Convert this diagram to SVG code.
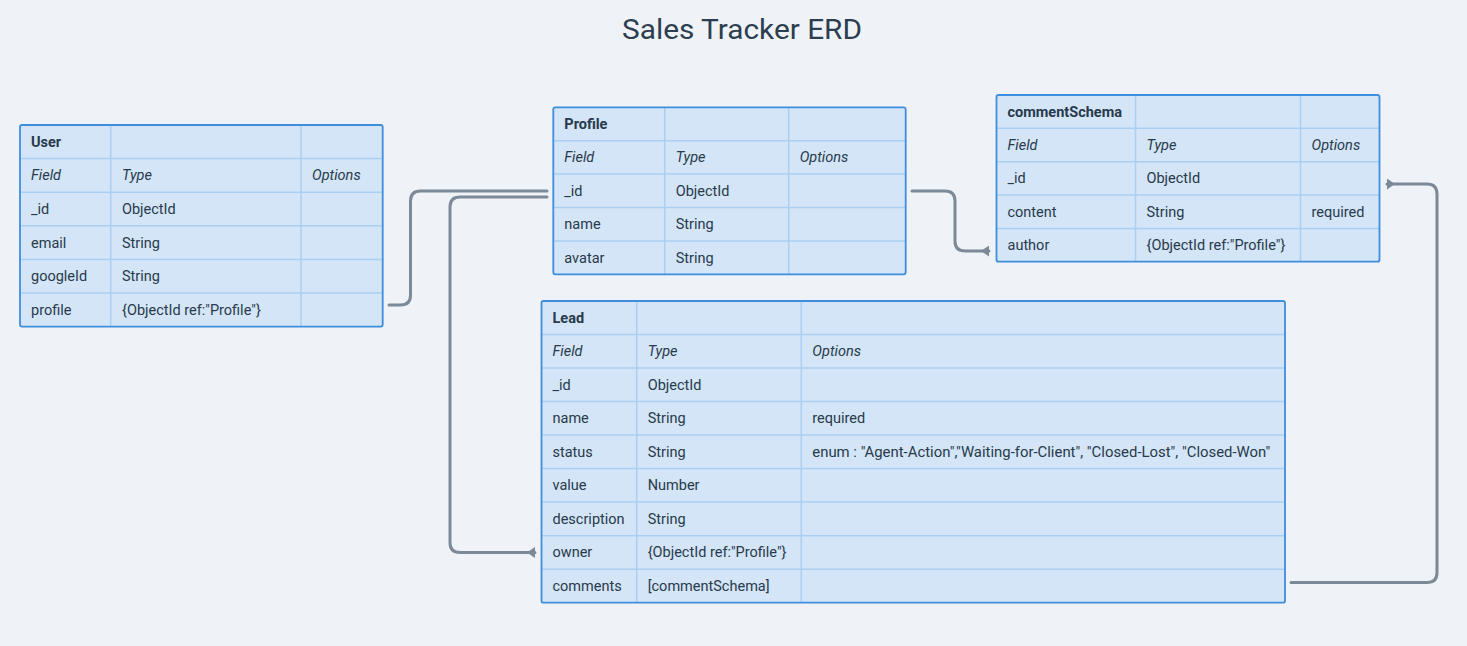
<svg xmlns="http://www.w3.org/2000/svg" width="1467" height="646" viewBox="0 0 1467 646">
<defs>
<style>
.bg{fill:#eff3f7}
.tbl{fill:#d3e5f6}
.outer{fill:none;stroke:#3f8ede;stroke-width:1.8}
.grid{stroke:#aacff2;stroke-width:1.5}
text{font-family:Roboto,"Noto Sans","Liberation Sans",sans-serif;font-size:14.5px;fill:#283a4c}
.title{font-size:28px;text-anchor:middle;fill:#2c3e50}
.hd{font-weight:bold}
.it{font-style:italic}
.conn{fill:none;stroke:#7b8998;stroke-width:3;stroke-linecap:round}
</style>
<marker id="tri" viewBox="0 0 8 11" refX="8" refY="5.5" markerWidth="8" markerHeight="11" markerUnits="userSpaceOnUse" orient="auto">
<path d="M0,5.5 L8,0 L8,11 z" fill="#7b8998"/>
</marker>
</defs>
<rect class="bg" x="0" y="0" width="1467" height="646"/>
<text class="title" x="742" y="39" textLength="240" lengthAdjust="spacingAndGlyphs">Sales Tracker ERD</text>

<g id="connectors">
<path class="conn" d="M389,305 H400.5 Q410.5,305 410.5,295 V201 Q410.5,191 420.5,191 H547"/>
<path class="conn" d="M547,197 H460 Q450,197 450,207 V542.5 Q450,552.5 460,552.5 H535" marker-end="url(#tri)"/>
<path class="conn" d="M912,191 H945 Q955,191 955,201 V241 Q955,251 965,251 H989" marker-end="url(#tri)"/>
<path class="conn" d="M1291,582.5 H1427 Q1437,582.5 1437,572.5 V194 Q1437,184 1427,184 H1387" marker-end="url(#tri)"/>
</g>

<g id="user">
<rect class="tbl" x="20" y="125" width="362.7" height="201.6" rx="2"/>
<line class="grid" x1="110.7" y1="125" x2="110.7" y2="326.6"/>
<line class="grid" x1="301" y1="125" x2="301" y2="326.6"/>
<line class="grid" x1="20" y1="158.6" x2="382.7" y2="158.6"/>
<line class="grid" x1="20" y1="192.2" x2="382.7" y2="192.2"/>
<line class="grid" x1="20" y1="225.8" x2="382.7" y2="225.8"/>
<line class="grid" x1="20" y1="259.4" x2="382.7" y2="259.4"/>
<line class="grid" x1="20" y1="293" x2="382.7" y2="293"/>
<rect class="outer" x="20" y="125" width="362.7" height="201.6" rx="2"/>
<text class="hd" x="31" y="146.8">User</text>
<text class="it" x="31" y="180.4">Field</text>
<text class="it" x="122" y="180.4">Type</text>
<text class="it" x="312" y="180.4">Options</text>
<text x="31" y="214">_id</text><text x="122" y="214">ObjectId</text>
<text x="31" y="247.6">email</text><text x="122" y="247.6">String</text>
<text x="31" y="281.2">googleId</text><text x="122" y="281.2">String</text>
<text x="31" y="314.8">profile</text><text x="122" y="314.8">{ObjectId ref:"Profile"}</text>
</g>

<g id="profile">
<rect class="tbl" x="553.3" y="107.3" width="352.4" height="167" rx="2"/>
<line class="grid" x1="664.7" y1="107.3" x2="664.7" y2="274.3"/>
<line class="grid" x1="788.7" y1="107.3" x2="788.7" y2="274.3"/>
<line class="grid" x1="553.3" y1="140.7" x2="905.7" y2="140.7"/>
<line class="grid" x1="553.3" y1="174.1" x2="905.7" y2="174.1"/>
<line class="grid" x1="553.3" y1="207.5" x2="905.7" y2="207.5"/>
<line class="grid" x1="553.3" y1="240.9" x2="905.7" y2="240.9"/>
<rect class="outer" x="553.3" y="107.3" width="352.4" height="167" rx="2"/>
<text class="hd" x="564.3" y="129">Profile</text>
<text class="it" x="564.3" y="162.4">Field</text>
<text class="it" x="675.7" y="162.4">Type</text>
<text class="it" x="799.7" y="162.4">Options</text>
<text x="564.3" y="195.8">_id</text><text x="675.7" y="195.8">ObjectId</text>
<text x="564.3" y="229.2">name</text><text x="675.7" y="229.2">String</text>
<text x="564.3" y="262.6">avatar</text><text x="675.7" y="262.6">String</text>
</g>

<g id="commentSchema">
<rect class="tbl" x="996.5" y="95" width="383" height="166.7" rx="2"/>
<line class="grid" x1="1135.5" y1="95" x2="1135.5" y2="261.7"/>
<line class="grid" x1="1300.5" y1="95" x2="1300.5" y2="261.7"/>
<line class="grid" x1="996.5" y1="128.3" x2="1379.5" y2="128.3"/>
<line class="grid" x1="996.5" y1="161.7" x2="1379.5" y2="161.7"/>
<line class="grid" x1="996.5" y1="195" x2="1379.5" y2="195"/>
<line class="grid" x1="996.5" y1="228.4" x2="1379.5" y2="228.4"/>
<rect class="outer" x="996.5" y="95" width="383" height="166.7" rx="2"/>
<text class="hd" x="1007.5" y="116.7">commentSchema</text>
<text class="it" x="1007.5" y="150">Field</text>
<text class="it" x="1146.5" y="150">Type</text>
<text class="it" x="1311.5" y="150">Options</text>
<text x="1007.5" y="183.4">_id</text><text x="1146.5" y="183.4">ObjectId</text>
<text x="1007.5" y="216.7">content</text><text x="1146.5" y="216.7">String</text><text x="1311.5" y="216.7">required</text>
<text x="1007.5" y="250">author</text><text x="1146.5" y="250">{ObjectId ref:"Profile"}</text>
</g>

<g id="lead">
<rect class="tbl" x="541.5" y="301" width="743.5" height="301.7" rx="2"/>
<line class="grid" x1="636.7" y1="301" x2="636.7" y2="602.7"/>
<line class="grid" x1="801.3" y1="301" x2="801.3" y2="602.7"/>
<line class="grid" x1="541.5" y1="334.5" x2="1285" y2="334.5"/>
<line class="grid" x1="541.5" y1="368" x2="1285" y2="368"/>
<line class="grid" x1="541.5" y1="401.6" x2="1285" y2="401.6"/>
<line class="grid" x1="541.5" y1="435.1" x2="1285" y2="435.1"/>
<line class="grid" x1="541.5" y1="468.6" x2="1285" y2="468.6"/>
<line class="grid" x1="541.5" y1="502.1" x2="1285" y2="502.1"/>
<line class="grid" x1="541.5" y1="535.7" x2="1285" y2="535.7"/>
<line class="grid" x1="541.5" y1="569.2" x2="1285" y2="569.2"/>
<rect class="outer" x="541.5" y="301" width="743.5" height="301.7" rx="2"/>
<text class="hd" x="552.5" y="322.7">Lead</text>
<text class="it" x="552.5" y="356.2">Field</text>
<text class="it" x="647.7" y="356.2">Type</text>
<text class="it" x="812.3" y="356.2">Options</text>
<text x="552.5" y="389.8">_id</text><text x="647.7" y="389.8">ObjectId</text>
<text x="552.5" y="423.3">name</text><text x="647.7" y="423.3">String</text><text x="812.3" y="423.3">required</text>
<text x="552.5" y="456.8">status</text><text x="647.7" y="456.8">String</text><text x="812.3" y="456.8" textLength="458" lengthAdjust="spacingAndGlyphs">enum : "Agent-Action","Waiting-for-Client", "Closed-Lost", "Closed-Won"</text>
<text x="552.5" y="490.3">value</text><text x="647.7" y="490.3">Number</text>
<text x="552.5" y="523.9">description</text><text x="647.7" y="523.9">String</text>
<text x="552.5" y="557.4">owner</text><text x="647.7" y="557.4">{ObjectId ref:"Profile"}</text>
<text x="552.5" y="590.9">comments</text><text x="647.7" y="590.9">[commentSchema]</text>
</g>
</svg>
